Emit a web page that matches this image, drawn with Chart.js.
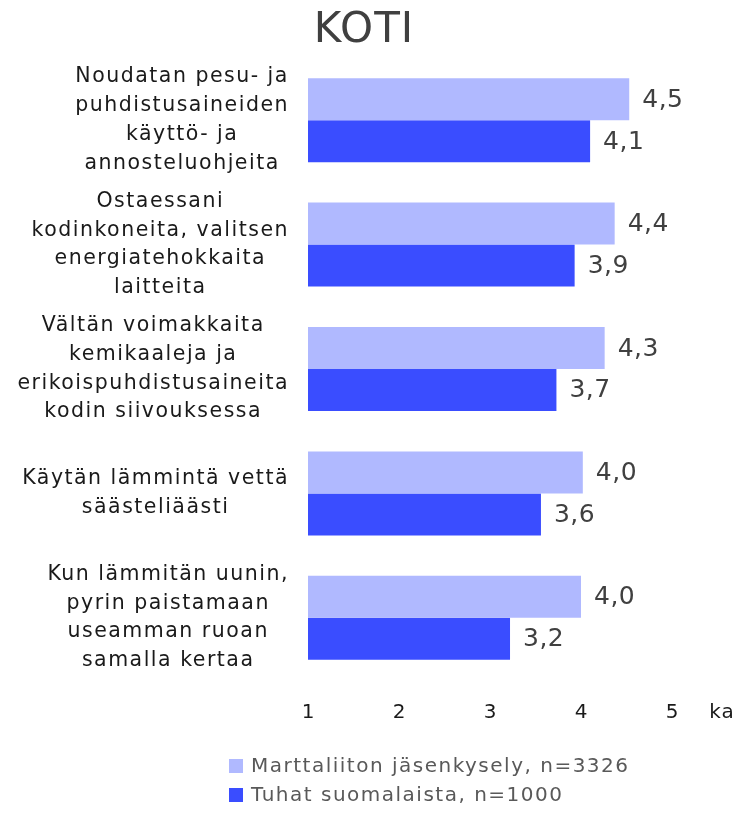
<!DOCTYPE html>
<html>
<head>
<meta charset="utf-8">
<script src="https://cdn.jsdelivr.net/npm/chart.js@4.4.1/dist/chart.umd.min.js"></script>
<style>
  html, body { margin: 0; padding: 0; background: #ffffff; }
  #wrap { width: 738px; height: 814px; position: relative; }
</style>
</head>
<body>
<div id="wrap"><canvas id="c" width="738" height="814"></canvas></div>
<script>
const title = "KOTI";
const categories = [
  ["Noudatan pesu- ja", "puhdistusaineiden", "käyttö- ja", "annosteluohjeita"],
  ["Ostaessani", "kodinkoneita, valitsen", "energiatehokkaita", "laitteita"],
  ["Vältän voimakkaita", "kemikaaleja ja", "erikoispuhdistusaineita", "kodin siivouksessa"],
  ["Käytän lämmintä vettä", "säästeliäästi"],
  ["Kun lämmitän uunin,", "pyrin paistamaan", "useamman ruoan", "samalla kertaa"]
];
const seriesNames = ["Marttaliiton jäsenkysely, n=3326", "Tuhat suomalaista, n=1000"];
const marttaliitto = [4.53, 4.37, 4.26, 4.02, 4.00];
const tuhat = [4.10, 3.93, 3.73, 3.56, 3.22];
const xTicks = [1, 2, 3, 4, 5];
const xUnitLabel = "ka";
const colors = ["#B0B9FF", "#3A4DFF"];

const FONT = "'DejaVu Sans', 'Noto Sans', sans-serif";

const customDraw = {
  id: 'customDraw',
  afterDraw(chart) {
    const ctx = chart.ctx;
    const y = chart.scales.y;
    ctx.save();
    // Title
    ctx.fillStyle = '#404040';
    ctx.font = "42px " + FONT;
    ctx.textAlign = 'center';
    ctx.textBaseline = 'middle';
    ctx.letterSpacing = '1px';
    ctx.fillText(title, 364, 31);

    // Category labels (each block centered on its widest line, right edge fixed)
    ctx.font = "20.5px " + FONT;
    ctx.letterSpacing = '1.5px';
    ctx.fillStyle = '#1a1a1a';
    const rightEdge = 289;
    const lh = 28.7;
    categories.forEach((lines, i) => {
      const cy = y.getPixelForValue(i);
      let widest = 0;
      lines.forEach(l => { widest = Math.max(widest, ctx.measureText(l).width); });
      const cx = rightEdge - widest / 2;
      const startY = cy - (lines.length - 1) * lh / 2;
      lines.forEach((l, k) => {
        ctx.fillText(l, cx, startY + k * lh);
      });
    });

    // Value labels
    ctx.font = "25px " + FONT;
    ctx.letterSpacing = '0.5px';
    ctx.fillStyle = '#404040';
    ctx.textAlign = 'left';
    chart.data.datasets.forEach((ds, di) => {
      const meta = chart.getDatasetMeta(di);
      meta.data.forEach((bar, i) => {
        const txt = ds.data[i].toFixed(1).replace('.', ',');
        ctx.fillText(txt, bar.x + 13, bar.y + 1);
      });
    });

    // Unit label on x-axis
    ctx.font = "20px " + FONT;
    ctx.letterSpacing = '1px';
    ctx.fillStyle = '#1a1a1a';
    ctx.textAlign = 'center';
    ctx.fillText(xUnitLabel, 722, 713);

    // Legend
    ctx.font = "20px " + FONT;
    ctx.letterSpacing = '1.5px';
    ctx.textAlign = 'left';
    const legY = [766, 795];
    seriesNames.forEach((n, i) => {
      ctx.fillStyle = colors[i];
      ctx.fillRect(229, legY[i] - 7, 14, 14);
      ctx.fillStyle = '#595959';
      ctx.fillText(n, 251, legY[i] + 1);
    });
    ctx.restore();
  }
};

new Chart(document.getElementById('c'), {
  type: 'bar',
  data: {
    labels: categories.map(c => c.join(' ')),
    datasets: [
      { label: seriesNames[0], data: marttaliitto, backgroundColor: colors[0], borderWidth: 0,
        categoryPercentage: 0.675, barPercentage: 1.0 },
      { label: seriesNames[1], data: tuhat, backgroundColor: colors[1], borderWidth: 0,
        categoryPercentage: 0.675, barPercentage: 1.0 }
    ]
  },
  options: {
    indexAxis: 'y',
    responsive: false,
    animation: false,
    layout: { padding: { top: 58, bottom: 84, left: 0, right: 66 } },
    plugins: {
      legend: { display: false },
      title: { display: false },
      tooltip: { enabled: false }
    },
    scales: {
      x: {
        min: 1, max: 5,
        afterBuildTicks(scale) { scale.ticks = xTicks.map(v => ({ value: v })); },
        grid: { display: false, drawTicks: false },
        border: { display: false },
        ticks: { color: '#1a1a1a', font: { size: 20, family: FONT }, padding: 21 },
        afterFit(scale) { scale.height = 50; }
      },
      y: {
        grid: { display: false, drawTicks: false },
        border: { display: false },
        ticks: { display: false },
        afterFit(scale) { scale.width = 308; }
      }
    }
  },
  plugins: [customDraw]
});
</script>
</body>
</html>
